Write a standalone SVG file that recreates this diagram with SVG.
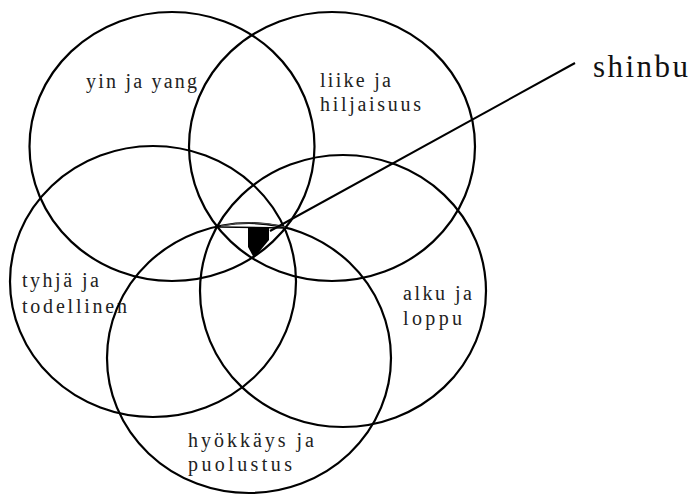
<svg xmlns="http://www.w3.org/2000/svg" width="696" height="496" viewBox="0 0 696 496">
<style>
.c{fill:none;stroke:#000;stroke-width:2.2}
.t{font-family:"Liberation Serif","Times New Roman",serif;font-size:20px;fill:#222}
.big{font-size:31px;fill:#111}
.ln{stroke:#000;stroke-width:2;fill:none}
</style>
<rect width="696" height="496" fill="#fff"/>
<g id="yin-ja-yang">
<ellipse class="c" cx="172" cy="146.5" rx="142.5" ry="134.5"/>
<text class="t" x="86" y="88" textLength="111">yin ja yang</text>
</g>
<g id="liike-ja-hiljaisuus">
<ellipse class="c" cx="332" cy="146.5" rx="143" ry="134.5"/>
<text class="t" x="320" y="87" textLength="71">liike ja</text>
<text class="t" x="320" y="111" textLength="101">hiljaisuus</text>
</g>
<g id="tyhja-ja-todellinen">
<ellipse class="c" cx="153" cy="281.5" rx="143" ry="135.5"/>
<text class="t" x="22" y="287" textLength="77">tyhjä ja</text>
<text class="t" x="22" y="313" textLength="105">todellinen</text>
</g>
<g id="alku-ja-loppu">
<ellipse class="c" cx="343" cy="291" rx="143" ry="136"/>
<text class="t" x="403" y="300" textLength="69">alku ja</text>
<text class="t" x="403" y="325" textLength="59">loppu</text>
</g>
<g id="hyokkays-ja-puolustus">
<ellipse class="c" cx="249" cy="358" rx="142" ry="135"/>
<text class="t" x="188" y="447" textLength="126">hyökkäys ja</text>
<text class="t" x="188" y="471" textLength="104">puolustus</text>
</g>
<g id="shinbu-area">
<path d="M219,227 L286,228" stroke="#000" stroke-width="1.5" fill="none"/>
<path d="M221,226 Q252,219 285,227" stroke="#555" stroke-width="1" fill="none"/>
<polygon points="248,228 269,228 269,240 254,258 248,247" fill="#000"/>
</g>
<g id="shinbu">
<text class="t big" x="593" y="77" textLength="95">shinbu</text>
</g>
<g id="connectors">
<line class="ln" x1="575" y1="63" x2="270" y2="231"/>
</g>
</svg>
